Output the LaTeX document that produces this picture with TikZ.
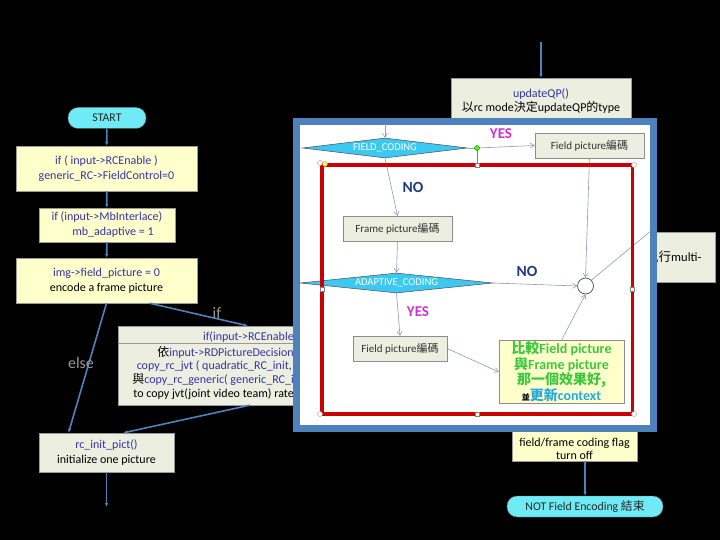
\documentclass[tikz,border=0pt]{standalone}
\usepackage{fontspec}
\setmainfont{Carlito}
\newfontfamily\cjkf{Noto Sans CJK TC}
\newcommand\zhf[1]{{\cjkf #1}}
\usetikzlibrary{shapes.geometric,arrows.meta}
\definecolor{cyanN}{RGB}{110,235,245}
\definecolor{boxY}{RGB}{255,255,204}
\definecolor{boxG}{RGB}{236,239,224}
\definecolor{txtB}{RGB}{51,51,170}
\definecolor{lineB}{RGB}{79,129,189}
\definecolor{diamC}{RGB}{60,200,240}
\definecolor{redR}{RGB}{204,0,0}
\definecolor{magT}{RGB}{204,51,204}
\definecolor{navyT}{RGB}{31,56,140}
\definecolor{greenT}{RGB}{60,200,60}
\definecolor{cyanT}{RGB}{40,170,220}
\definecolor{thinL}{RGB}{140,155,190}
\tikzset{
  conn/.style={draw=lineB,line width=1.6pt,-{Latex[length=4pt,width=3.5pt]}},
  thinconn/.style={draw=thinL,line width=0.6pt,-{Straight Barb[length=4pt,width=5pt]}},
  stad/.style={draw=black!60,fill=cyanN,rounded corners=10pt,inner sep=0pt,font=\fontsize{11.8}{13}\selectfont,text=black!85},
  ybox/.style={draw=black!40,fill=boxY,inner sep=0pt,align=center,font=\fontsize{12}{15}\selectfont},
  gbox/.style={draw=black!40,fill=boxG,inner sep=0pt,align=center,font=\fontsize{12}{14.5}\selectfont},
  ibox/.style={draw=black!45,fill=boxG,inner sep=0pt,minimum height=25pt,font=\fontsize{11}{12}\selectfont,text=black!80},
  diam/.style={diamond,draw=black!70,line width=0.5pt,fill=diamC,inner sep=0pt},
  dtext/.style={text=white,font=\fontsize{10.5}{11}\selectfont},
  outl/.style={text=gray!80,font=\fontsize{16}{18}\selectfont},
  yesT/.style={text=magT,font=\bfseries\fontsize{15}{17}\selectfont},
  noT/.style={text=navyT,font=\bfseries\fontsize{15.5}{17}\selectfont},
  hsq/.style={draw=black!50,fill=white,line width=0.4pt,minimum size=4pt,inner sep=0pt},
  hci/.style={circle,draw=black!40,fill=white,line width=0.4pt,minimum size=5pt,inner sep=0pt},
}
\begin{document}
\begin{tikzpicture}[x=1pt,y=-1pt]
\useasboundingbox (0,0) rectangle (720,540);
\fill[black] (0,0) rectangle (720,540);

% ---------------- left column ----------------
\node[stad,minimum width=78pt,minimum height=21pt] (start) at (107,118) {START};
\node[ybox,minimum width=181pt,minimum height=45pt] (b1) at (106.5,168.5)
  {\textcolor{txtB}{if ( input->RCEnable )}\\ \textcolor{txtB}{generic\_RC->FieldControl=0}};
\node[ybox,minimum width=136pt,minimum height=34pt] (b2) at (107,225)
  {\textcolor{txtB}{if (input->MbInterlace)}\\ \textcolor{txtB}{\hspace{12pt}mb\_adaptive = 1}};
\node[ybox,minimum width=181pt,minimum height=45pt] (b3) at (106.5,280.5)
  {\textcolor{txtB}{img->field\_picture = 0}\\ encode a frame picture};

\node[gbox,minimum width=302pt,minimum height=79pt] (ib) at (269,365.5) {};
\draw[black!40] (ib.west |- 0,343) -- (ib.east |- 0,343);
\begin{scope}[every node/.style={anchor=east,inner sep=0pt,font=\fontsize{12}{14}\selectfont}]
\node[text=txtB] (i1) at (294,337) {if(input->RCEnable};
\node (i2) at (294,352) {\zhf{依}\textcolor{txtB}{input->RDPictureDecision}};
\node[text=txtB] (i3) at (292,366) {copy\_rc\_jvt ( quadratic\_RC\_init,};
\node (i4) at (294,380) {\zhf{與}\textcolor{txtB}{copy\_rc\_generic( generic\_RC\_i}};
\node (i5) at (294,394) {to copy jvt(joint video team) rate};
\end{scope}

\node[gbox,minimum width=135pt,minimum height=39pt] (rc) at (106.5,452.5)
  {\textcolor{txtB}{rc\_init\_pict()}\\ initialize one picture};
\coordinate (rcend) at (106.5,507);

\draw[conn] (start) -- (b1);
\draw[conn] (b1) -- (b2);
\draw[conn] (b2) -- (b3);
\draw[conn] ([xshift=43pt]b3.south) -- ([xshift=130pt]ib.north west);
\draw[conn] (b3.south) -- ([xshift=-38pt]rc.north);
\draw[conn] ([xshift=132pt]ib.south west) -- ([xshift=17pt]rc.north);
\draw[conn] (rc) -- (rcend);
\node[outl] (lif) at (217,313) {if};
\node[outl] (lelse) at (81,363) {else};

% ---------------- right column ----------------
\coordinate (qtop) at (541,42);
\node[gbox,minimum width=180pt,minimum height=46pt] (uq) at (541,101) {};
\node[font=\fontsize{12}{14}\selectfont,align=center,inner sep=0pt] (uqt) at (541,101.5)
  {\textcolor{txtB}{updateQP()}\\ \zhf{以}rc mode\zhf{決定}updateQP\zhf{的}type};
\draw[conn] (qtop) -- (uq.north);

\node[gbox,minimum width=65pt,minimum height=50pt] (mb) at (682.5,257) {};
\node[anchor=west,inner sep=0pt,font=\fontsize{12.5}{13}\selectfont] (mbt) at (646,257) {\zhf{執行}multi-};

\node[ybox,minimum width=125pt,minimum height=40pt] (ff) at (574.5,441) {};
\node[font=\fontsize{12}{13}\selectfont,align=center,inner sep=0pt] (fft) at (574.5,448.5)
  {field/frame coding flag\\ turn off};
\node[stad,minimum width=156pt,minimum height=21pt] (ne) at (585,506.5) {NOT Field Encoding \zhf{結束}};
\draw[conn] ([xshift=10.5pt]ff.south) -- (ne.north);

% ---------------- overlay ----------------
\draw[lineB,line width=7pt,fill=white] (296.5,121.5) rectangle (653.5,428.5);

\coordinate (ftop) at (385,124);
\node[diam,minimum width=165pt,minimum height=20pt,label={[dtext]center:FIELD\_CODING}] (fc) at (385,148) {};
\node[ibox,minimum width=109pt] (fpt) at (589.5,145.5) {Field picture\zhf{編碼}};
\node[ibox,minimum width=109pt] (frb) at (397.5,228.5) {Frame picture\zhf{編碼}};
\node[diam,minimum width=193pt,minimum height=20pt,label={[dtext]center:ADAPTIVE\_CODING}] (ad) at (396.5,283) {};
\node[ibox,minimum width=94pt] (fpb) at (400,348.5) {Field picture\zhf{編碼}};
\node[circle,draw=black!80,fill=white,line width=0.6pt,minimum size=16pt,inner sep=0pt] (ci) at (585.5,286) {};
\node[draw=black!45,fill=boxY,minimum width=125pt,minimum height=63pt,inner sep=0pt,align=center,
  font=\bfseries\fontsize{14}{15.3}\selectfont,text=greenT] (cmp) at (561.5,372)
  {\zhf{比較}Field picture\\ \zhf{與}Frame picture\\ \zhf{那一個效果好,}\\
   {\fontsize{8}{8}\selectfont\color{black}\zhf{並}}\textcolor{cyanT}{\zhf{更新}context}};

\draw[thinconn] (ftop) -- (fc.north);
\coordinate (gdot) at (477,148);
\draw[thinL,line width=0.6pt] (fc.east) -- (gdot);
\draw[thinconn] (gdot) -- (fpt.west);
\draw[thinconn] (fc.south) -- (frb.north);
\draw[thinconn] (frb.south) -- (ad.north);
\draw[thinconn] (ad.east) -- (ci.west);
\draw[thinconn] (fpt.south) -- (ci.north);
\draw[thinconn] (ad.south) -- (fpb.north);
\draw[thinconn] (fpb.east) -- (cmp.west);
\draw[thinconn] (cmp.north) -- (ci.south);
\draw[thinL,line width=0.6pt] (ci.north east) -- (mb.north west);

% red selection frame + handles
\draw[redR,line width=3.5pt] (322,165) rectangle (632.5,414);
\draw[black!50,line width=0.4pt] (gdot) -- (477,165);
\node[circle,draw=green!50!black,fill=green!70!yellow,minimum size=5pt,inner sep=0pt] (gd) at (gdot) {};
\node[hsq] (h1) at (477,165) {};
\node[hsq] (h2) at (477,414) {};
\node[hsq] (h3) at (322,289) {};
\node[hsq] (h4) at (632.5,289) {};
\node[hci] (h5) at (320,163) {};
\node[circle,draw=yellow!60!black,fill=yellow!60,minimum size=5pt,inner sep=0pt] (h6) at (325,164) {};
\node[hci] (h7) at (634,165) {};
\node[hci] (h8) at (320,414) {};
\node[hci] (h9) at (634,414) {};

\node[yesT] (y1) at (501,134) {YES};
\node[noT] (n1) at (413,187) {NO};
\node[noT] (n2) at (527,271) {NO};
\node[yesT] (y2) at (418,312) {YES};
\end{tikzpicture}
\end{document}
